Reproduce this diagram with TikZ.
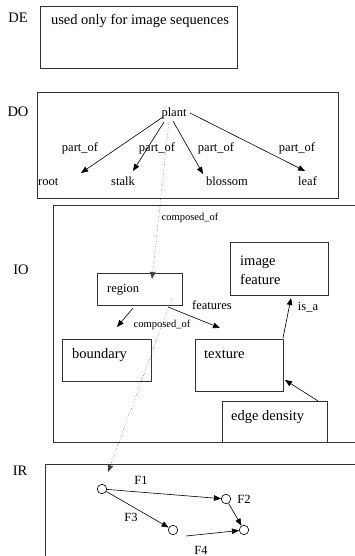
\documentclass[tikz,border=0pt]{standalone}
\usepackage{fontspec}
\setmainfont{Liberation Serif}
\usetikzlibrary{arrows.meta}
\begin{document}
\begin{tikzpicture}[x=1pt,y=-1pt,
  txt/.style={inner sep=0pt,text height=0.7em,text depth=0.2em},
  big/.style={txt,font=\fontsize{14.5}{19}\selectfont},
  mid/.style={txt,font=\fontsize{12.5}{15}\selectfont},
  small/.style={txt,font=\fontsize{10.5}{13}\selectfont},
  frame/.style={draw=black!80,line width=0.7pt},
  box/.style={frame,rectangle,inner sep=0pt},
  arr/.style={line width=0.6pt,-{Triangle[length=7pt,width=5.5pt]}},
  dotarr/.style={line width=0.5pt,black!75,dotted,-{Triangle[length=7pt,width=5.5pt]}},
  st/.style={circle,draw,line width=0.6pt,minimum width=8.5pt,minimum height=9.5pt,inner sep=0pt}]
\useasboundingbox (0,0) rectangle (355,556);
% layer labels
\node[big] (lDE) at (18,20) {DE};
\node[big] (lDO) at (18,114) {DO};
\node[big] (lIO) at (21,272) {IO};
\node[big] (lIR) at (20,473) {IR};
% DE
\node[box,minimum width=197pt,minimum height=62pt] (de) at (138.5,37) {};
\node[big] (detxt) at (140,22) {used only for image sequences};
% DO
\node[box,minimum width=301pt,minimum height=106pt] (do) at (187.5,145) {};
\node[mid] (plant) at (174,114) {plant};
\node[mid,anchor=west] (root) at (38,183) {root};
\node[mid,anchor=west] (stalk) at (111,183) {stalk};
\node[mid,anchor=west] (blossom) at (206,183) {blossom};
\node[mid,anchor=west] (leaf) at (298,183) {leaf};
\node[mid] (po1) at (80,149) {part\_of};
\node[mid] (po2) at (157,149) {part\_of};
\node[mid] (po3) at (216,149) {part\_of};
\node[mid] (po4) at (297,149) {part\_of};
\coordinate (pr) at (163,117);
\coordinate (ps) at (164,122);
\coordinate (pb) at (173,121);
\coordinate (pl) at (190,113);
\coordinate (tr) at (81,173);
\coordinate (ts) at (133,171);
\coordinate (tb) at (203,174);
\coordinate (tl) at (305,171);
\draw[arr] (pr) -- (tr);
\draw[arr] (ps) -- (ts);
\draw[arr] (pb) -- (tb);
\draw[arr] (pl) -- (tl);
% IO
\draw[frame] (355,205) -- (53,205) -- (53,442) -- (355,442);
\node[box,minimum width=85pt,minimum height=32pt] (region) at (139.5,289) {};
\node[mid,anchor=west] (regtxt) at (107,290) {region};
\node[box,minimum width=98pt,minimum height=53pt] (imf) at (279,268.5) {};
\node[big,anchor=west,text height=,text depth=,align=left] (imftxt) at (240,270) {image\\feature};
\node[box,minimum width=89pt,minimum height=42pt] (bound) at (106.5,360) {};
\node[big,anchor=west] (boundtxt) at (72,356) {boundary};
\node[box,minimum width=88pt,minimum height=52pt] (tex) at (239,365) {};
\node[big,anchor=west] (textxt) at (204,356) {texture};
\node[box,minimum width=105pt,minimum height=41pt] (ed) at (274.5,421.5) {};
\node[big,anchor=west] (edtxt) at (231,418) {edge density};
\node[small] (co1) at (190,218) {composed\_of};
\node[small] (co2) at (162,325) {composed\_of};
\node[mid] (feat) at (212,307) {features};
\node[mid] (isa) at (308,308) {is\_a};
\coordinate (rb) at (133,308);
\coordinate (tbd) at (117,327);
\coordinate (rt) at (168,307);
\coordinate (ttx) at (220,328);
\coordinate (tx1) at (283,338);
\coordinate (tif) at (291,298);
\coordinate (ed1) at (318,401);
\coordinate (ttx2) at (285,380);
\draw[arr] (rb) -- (tbd);
\draw[arr] (rt) -- (ttx);
\draw[arr] (tx1) -- (tif);
\draw[arr] (ed1) -- (ttx2);
% dotted links
\coordinate (d1s) at (169,122);
\coordinate (d1e) at (152,279);
\coordinate (d2s) at (172,298);
\coordinate (d2e) at (108,472);
\draw[dotarr] (d1s) -- (d1e);
\draw[dotarr] (d2s) -- (d2e);
% IR
\draw[frame] (355,464) -- (45,464) -- (45,556);
\node[st] (n1) at (102,489) {};
\node[st] (n2) at (226,499) {};
\node[st] (n3) at (173,530) {};
\node[st] (n4) at (244,530) {};
\coordinate (f4s) at (186,536);
\draw[arr] (n1) -- (n2);
\draw[arr] (n1) -- (n3);
\draw[arr] (n2) -- (n4);
\draw[arr] (f4s) -- (n4);
\node[mid] (F1) at (141,482) {F1};
\node[mid] (F2) at (244,501) {F2};
\node[mid] (F3) at (131,519) {F3};
\node[mid,text depth=0pt,anchor=base] (F4) at (201,554.5) {F4};
\end{tikzpicture}
\end{document}
